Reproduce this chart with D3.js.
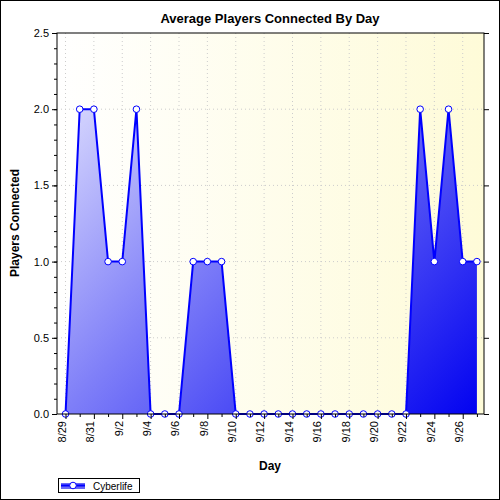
<!DOCTYPE html><html><head><script src="https://cdn.jsdelivr.net/npm/d3@7"></script>
<style>body{margin:0;background:#fff}text{font-family:Arial,"Liberation Sans",sans-serif}</style></head><body>
<svg id="c" width="500" height="500"></svg>
<script>
const days=["8/29","8/30","8/31","9/1","9/2","9/3","9/4","9/5","9/6","9/7","9/8","9/9","9/10","9/11","9/12","9/13","9/14","9/15","9/16","9/17","9/18","9/19","9/20","9/21","9/22","9/23","9/24","9/25","9/26","9/27"];
const players=[0,2,2,1,1,2,0,0,0,1,1,1,0,0,0,0,0,0,0,0,0,0,0,0,0,2,1,2,1,1];
const yTicks=[0,0.5,1,1.5,2,2.5];
const svg=d3.select("#c");
svg.append("rect").attr("x",0.5).attr("y",0.5).attr("width",499).attr("height",499).attr("fill","#fff").attr("stroke","#000");
const L=57,R=484,T=33,B=414;
const x=d3.scaleLinear().domain([-0.6,days.length-1+0.5]).range([L,R]);
const y=d3.scaleLinear().domain([0,2.5]).range([B,T]);
const defs=svg.append("defs");
const bg=defs.append("linearGradient").attr("id","bg").attr("x1",0).attr("x2",1).attr("y1",0).attr("y2",0);
bg.append("stop").attr("offset",0).attr("stop-color","#ffffff");bg.append("stop").attr("offset",1).attr("stop-color","#fefbd8");
const fg=defs.append("linearGradient").attr("id","fg").attr("gradientUnits","userSpaceOnUse").attr("x1",L).attr("y1",T).attr("x2",R).attr("y2",B);
fg.append("stop").attr("offset",0).attr("stop-color","#f0f0ff");fg.append("stop").attr("offset",0.45).attr("stop-color","#7f7ff8");fg.append("stop").attr("offset",1).attr("stop-color","#0000f0");
svg.append("rect").attr("x",L).attr("y",T).attr("width",R-L).attr("height",B-T).attr("fill","url(#bg)");
const g=svg.append("g");
g.selectAll(".gy").data(yTicks.slice(1,-1)).join("line").attr("x1",L).attr("x2",R).attr("y1",d=>y(d)).attr("y2",d=>y(d)).attr("stroke","#ccc").attr("stroke-dasharray","1,3");
g.selectAll(".gx").data(days.filter((d,i)=>i%2==0)).join("line").attr("x1",(d,i)=>x(i*2)).attr("x2",(d,i)=>x(i*2)).attr("y1",T).attr("y2",B).attr("stroke","#ccc").attr("stroke-dasharray","1,3");
const data=players.map((v,i)=>[i,v]);
g.append("path").datum(data).attr("d",d3.area().x(d=>x(d[0])).y0(B).y1(d=>y(d[1]))).attr("fill","url(#fg)");
g.append("path").datum(data).attr("d",d3.line().x(d=>x(d[0])).y(d=>y(d[1]))).attr("fill","none").attr("stroke","#0000ff").attr("stroke-width",2);
g.selectAll("circle").data(data).join("circle").attr("cx",d=>x(d[0])).attr("cy",d=>y(d[1])).attr("r",3.3).attr("fill","#fff").attr("stroke","#0000ff").attr("stroke-width",1);
svg.append("rect").attr("x",L).attr("y",T).attr("width",R-L).attr("height",B-T).attr("fill","none").attr("stroke","#000");
const ya=svg.append("g").attr("transform",`translate(${L},0)`).call(d3.axisLeft(y).tickValues(yTicks).tickFormat(d3.format(".1f")).tickSize(5));
svg.append("g").attr("transform",`translate(${L},0)`).call(d3.axisLeft(y).ticks(25).tickFormat("").tickSize(3));
svg.append("g").attr("transform",`translate(${R},0)`).call(d3.axisRight(y).tickValues(yTicks).tickFormat("").tickSize(5));
const xa=svg.append("g").attr("transform",`translate(0,${B})`).call(d3.axisBottom(x).tickValues(d3.range(0,days.length,2)).tickFormat(i=>days[i]).tickSize(5));
svg.append("g").attr("transform",`translate(0,${B})`).call(d3.axisBottom(x).tickValues(d3.range(1,days.length,2)).tickFormat("").tickSize(3));
svg.selectAll(".domain").remove();
svg.selectAll(".tick line").attr("stroke","#000");
ya.selectAll("text").attr("font-size",11).attr("fill","#000");
xa.selectAll("text").attr("font-size",11).attr("fill","#000").attr("transform","rotate(-90)").attr("text-anchor","end").attr("x",-7).attr("y",-4).attr("dy","0.35em");
svg.append("text").attr("x",270).attr("y",23).attr("text-anchor","middle").attr("font-weight","bold").attr("font-size",13).text("Average Players Connected By Day");
svg.append("text").attr("x",270).attr("y",470).attr("text-anchor","middle").attr("font-weight","bold").attr("font-size",12).text("Day");
svg.append("text").attr("transform","translate(19,223) rotate(-90)").attr("text-anchor","middle").attr("font-weight","bold").attr("font-size",12).text("Players Connected");
const lg=svg.append("g");
lg.append("rect").attr("x",58.5).attr("y",478.5).attr("width",81).attr("height",14).attr("fill","#fff").attr("stroke","#000");
lg.append("rect").attr("x",61).attr("y",483).attr("width",24).attr("height",6).attr("fill","url(#fg)");
lg.append("line").attr("x1",61).attr("x2",85).attr("y1",485.5).attr("y2",485.5).attr("stroke","#00f").attr("stroke-width",2);
lg.append("circle").attr("cx",73).attr("cy",485.5).attr("r",3.3).attr("fill","#fff").attr("stroke","#00f");
lg.append("text").attr("x",93).attr("y",489.5).attr("font-size",10).text("Cyberlife");
</script></body></html>
